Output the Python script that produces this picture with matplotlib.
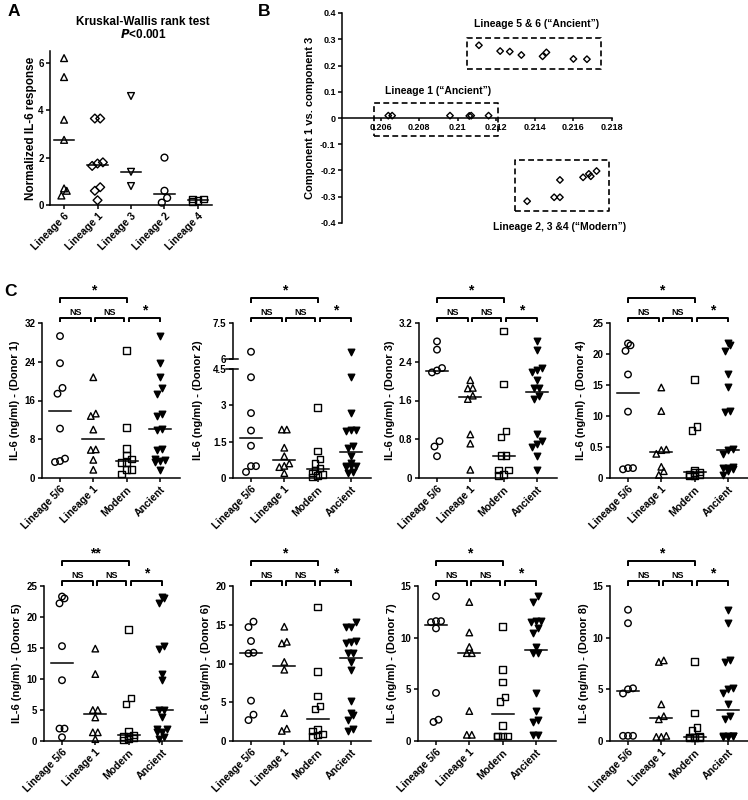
import numpy as np
import matplotlib.pyplot as plt
from matplotlib.text import Text
from matplotlib.transforms import blended_transform_factory

plt.rcParams['font.family'] = ['Liberation Sans Narrow', 'Liberation Sans', 'DejaVu Sans']
plt.rcParams['font.weight'] = 'bold'
plt.rcParams['axes.labelweight'] = 'bold'
plt.rcParams['mathtext.fontset'] = 'custom'
plt.rcParams['mathtext.it'] = 'Liberation Sans Narrow:italic:bold'
plt.rcParams['axes.linewidth'] = 1.1
plt.rcParams['xtick.major.width'] = 1.1
plt.rcParams['ytick.major.width'] = 1.1
plt.rcParams['xtick.major.size'] = 3
plt.rcParams['ytick.major.size'] = 3
plt.rcParams['xtick.major.pad'] = 1.5
plt.rcParams['ytick.major.pad'] = 1.5
plt.rcParams['xtick.labelsize'] = 7
plt.rcParams['ytick.labelsize'] = 7

# ---- panel A data
a_groups = ['Lineage 6', 'Lineage 1', 'Lineage 3', 'Lineage 2', 'Lineage 4']
a_markers = ['^', 'D', 'v', 'o', 's']
a_lin6 = [6.2, 5.4, 3.6, 2.75, 0.7, 0.6, 0.4]
a_lin1 = [3.65, 3.65, 1.8, 1.75, 1.65, 0.75, 0.6, 0.2]
a_lin3 = [4.6, 1.4, 0.8]
a_lin2 = [2.0, 0.6, 0.3, 0.1]
a_lin4 = [0.25, 0.25, 0.2, 0.15]
a_vals = [a_lin6, a_lin1, a_lin3, a_lin2, a_lin4]

# ---- panel B data
b_anc56_x = [0.2111, 0.2122, 0.2127, 0.2133, 0.2144, 0.2146, 0.2160, 0.2167]
b_anc56_y = [0.277, 0.255, 0.253, 0.240, 0.235, 0.250, 0.225, 0.224]
b_lin1_x = [0.2064, 0.2066, 0.2096, 0.2106, 0.2107, 0.2116]
b_lin1_y = [0.009, 0.009, 0.009, 0.008, 0.009, 0.009]
b_mod_x = [0.2136, 0.2150, 0.2153, 0.2153, 0.2165, 0.2168, 0.2169, 0.2172]
b_mod_y = [-0.317, -0.302, -0.302, -0.236, -0.226, -0.213, -0.222, -0.202]
b_xticks = [0.206, 0.208, 0.210, 0.212, 0.214, 0.216, 0.218]
b_xlabels = ['0.206', '0.208', '0.21', '0.212', '0.214', '0.216', '0.218']
b_yticks = [0.4, 0.3, 0.2, 0.1, 0, -0.1, -0.2, -0.3, -0.4]

# ---- panel C data (one list per donor)
c_groups = ['Lineage 5/6', 'Lineage 1', 'Modern', 'Ancient']
c_lin56 = [
    [29.3, 23.7, 18.6, 17.4, 10.2, 4.0, 3.3, 3.5],
    [6.3, 4.16, 2.68, 1.96, 1.33, 0.49, 0.49, 0.25],
    [2.82, 2.65, 2.27, 2.22, 2.18, 0.76, 0.65, 0.45],
    [21.7, 21.4, 20.5, 16.7, 10.7, 1.6, 1.6, 1.4],
    [23.3, 23.0, 22.2, 15.3, 9.8, 2.0, 2.0, 0.6],
    [15.4, 14.7, 12.9, 11.4, 11.3, 5.2, 3.4, 2.7],
    [14.0, 11.6, 11.6, 11.5, 10.9, 4.65, 2.06, 1.84],
    [12.7, 11.4, 5.1, 5.0, 4.6, 0.5, 0.5, 0.5],
]
c_lin1 = [
    [20.8, 13.3, 12.8, 10.0, 5.9, 5.8, 3.75, 1.7],
    [2.0, 2.0, 1.25, 0.9, 0.6, 0.5, 0.45, 0.2],
    [2.02, 1.86, 1.85, 1.70, 1.63, 0.9, 0.71, 0.17],
    [14.6, 10.8, 4.6, 4.5, 3.9, 1.8, 1.1, 0.5],
    [14.9, 10.8, 5.0, 5.0, 3.8, 1.4, 1.4, 0.3],
    [14.75, 12.8, 12.6, 10.2, 9.2, 3.6, 1.6, 1.3],
    [13.45, 10.5, 9.1, 8.5, 8.5, 2.9, 0.6, 0.6],
    [7.8, 7.65, 3.55, 2.4, 2.1, 0.5, 0.4, 0.4],
]
c_modern = [
    [26.3, 10.4, 6.1, 4.7, 3.9, 3.2, 3.2, 1.8, 1.8, 0.8],
    [2.9, 1.12, 0.78, 0.6, 0.42, 0.3, 0.2, 0.15, 0.1, 0.05],
    [3.03, 1.94, 0.97, 0.85, 0.46, 0.46, 0.17, 0.17, 0.07, 0.05],
    [15.9, 8.3, 7.7, 1.3, 1.0, 0.85, 0.6, 0.5, 0.4, 0.3],
    [18.0, 6.9, 6.0, 1.5, 1.0, 0.8, 0.7, 0.5, 0.3, 0.2],
    [17.3, 9.0, 5.8, 4.5, 4.1, 1.5, 1.3, 0.9, 0.8, 0.6],
    [11.1, 6.9, 5.7, 4.25, 3.8, 1.5, 0.5, 0.5, 0.5, 0.5],
    [7.7, 2.7, 1.3, 1.0, 0.45, 0.4, 0.4, 0.35, 0.35, 0.3],
]
c_ymax = [32, 7.5, 3.2, 25, 25, 20, 15, 15]
c_yticks = [[0, 8, 16, 24, 32], [0, 1.5, 3, 4.5], [0, 0.8, 1.6, 2.4, 3.2],
            [0, 5, 10, 15, 20, 25], [0, 5, 10, 15, 20, 25], [0, 5, 10, 15, 20],
            [0, 5, 10, 15], [0, 5, 10, 15]]
c_yticklabels = [['0', '8', '16', '24', '32'], ['0', '1.5', '3', '4.5'],
                 ['0', '0.8', '1.6', '2.4', '3.2'], ['0', '0.5', '10', '15', '20', '25'],
                 ['0', '5', '10', '15', '20', '25'], ['0', '5', '10', '15', '20'],
                 ['0', '5', '10', '15'], ['0', '5', '10', '15']]
c_top_star = ['*', '*', '*', '*', '**', '*', '*', '*']

W, H = 748, 800
fig = plt.figure(figsize=(W / 100, H / 100), dpi=100)


def px_axes(l, t, r, b):
    return fig.add_axes([l / W, 1 - b / H, (r - l) / W, (b - t) / H])


def spread(vals, thresh, step=0.15):
    # simple column-scatter offsets: points close in y sit side by side
    v = np.asarray(vals, float)
    order = np.argsort(v)
    off = np.zeros(len(v))
    groups, cur = [], [order[0]]
    for i in order[1:]:
        if v[i] - v[cur[0]] < thresh:
            cur.append(i)
        else:
            groups.append(cur)
            cur = [i]
    groups.append(cur)
    for g in groups:
        n = len(g)
        if n <= 3:
            offs = (np.arange(n) - (n - 1) / 2) * step
        else:
            offs = ((np.arange(n) % 3) - 1) * step
        for k, i in enumerate(g):
            off[i] = offs[k]
    return off


def clean(ax):
    ax.spines['top'].set_visible(False)
    ax.spines['right'].set_visible(False)


# ================= panel A
axA = px_axes(50, 51, 212, 205)
clean(axA)
for i, (vals, m) in enumerate(zip(a_vals, a_markers)):
    off = spread(vals, 6.5 * 6 / 154, 0.16)
    axA.scatter(i + off, vals, marker=m, s=20 if m == 'D' else 24, facecolors='none',
                edgecolors='black', linewidths=1.0, zorder=3, clip_on=False)
    med = np.median(vals)
    axA.plot([i - 0.3, i + 0.3], [med, med], color='black', lw=1.1, zorder=4)
axA.set_xlim(-0.42, 4.42)
axA.set_ylim(0, 6.5)
axA.set_yticks([0, 2, 4, 6])
axA.set_xticks(range(len(a_groups)))
axA.set_xticklabels(a_groups, rotation=45, ha='right', rotation_mode='anchor', fontsize=7.5)
axA.set_ylabel('Normalized IL-6 response', fontsize=8.5, labelpad=1)
fig.text(143 / W, 1 - 22 / H, 'Kruskal-Wallis rank test', ha='center', va='center', fontsize=8.5)
fig.text(143 / W, 1 - 35 / H, r'$\mathit{P}$<0.001', ha='center', va='center', fontsize=8.5)
fig.text(8 / W, 1 - 12 / H, 'A', fontsize=12.5, family='Liberation Sans', ha='left', va='center')

# ================= panel B
axB = px_axes(342, 13, 612, 223)
clean(axB)
axB.spines['bottom'].set_position(('data', 0))
for xs, ys in [(b_anc56_x, b_anc56_y), (b_lin1_x, b_lin1_y), (b_mod_x, b_mod_y)]:
    axB.scatter(xs, ys, marker='D', s=11, facecolors='none', edgecolors='black',
                linewidths=1.0, zorder=3)
boxes = [(0.2105, 0.185, 0.21744, 0.305), (0.20568, -0.069, 0.21209, 0.057),
         (0.21297, -0.354, 0.21787, -0.161)]
for x0, y0, x1, y1 in boxes:
    axB.plot([x0, x1, x1, x0, x0], [y0, y0, y1, y1, y0], ls=(0, (3.5, 2)), color='black',
             lw=1.2, clip_on=False)
axB.text(0.2141, 0.359, 'Lineage 5 & 6 (\u201cAncient\u201d)', ha='center', va='center', fontsize=7.5)
axB.text(0.2090, 0.103, 'Lineage 1 (\u201cAncient\u201d)', ha='center', va='center', fontsize=7.5)
axB.text(0.2153, -0.415, 'Lineage 2, 3 &4 (\u201cModern\u201d)', ha='center', va='center',
         fontsize=7.5, clip_on=False)
axB.set_xlim(0.204, 0.218)
axB.set_ylim(-0.4, 0.4)
axB.set_xticks(b_xticks)
axB.set_xticklabels(b_xlabels, fontsize=6.5)
axB.set_yticks(b_yticks)
axB.set_yticklabels([('%g' % t) for t in b_yticks], fontsize=6.5)
axB.tick_params(axis='x', length=2)
axB.set_ylabel('Component 1 vs. component 3', fontsize=8, labelpad=4)
fig.text(258 / W, 1 - 11 / H, 'B', fontsize=12.5, family='Liberation Sans', ha='left', va='center')

# ================= panel C
fig.text(4 / W, 1 - 292 / H, 'C', fontsize=12.5, family='Liberation Sans', ha='left', va='center')
cat0 = [60, 251, 437, 628, 62, 251, 436, 628]
row_top = [323, 323, 323, 323, 586, 586, 586, 586]
row_bot = [478, 478, 478, 478, 741, 741, 741, 741]
SP = 33.3
XL, XR = -0.55, 3.6
markers = ['o', '^', 's', 'v']


def draw_groups(ax, groups, thresh, lo=None, hi=None):
    for j, vals in enumerate(groups):
        vals = np.asarray(vals, float)
        off = spread(vals, thresh, 0.15)
        keep = np.ones(len(vals), bool)
        if lo is not None:
            keep &= vals >= lo
        if hi is not None:
            keep &= vals <= hi
        if not keep.any():
            continue
        if markers[j] == 'v':
            kw = dict(facecolors='black', edgecolors='black')
        else:
            kw = dict(facecolors='none', edgecolors='black')
        ax.scatter(j + off[keep], vals[keep], marker=markers[j], s=22, linewidths=1.0,
                   zorder=3, clip_on=False, **kw)
        med = np.median(vals)
        if (lo is None or med >= lo) and (hi is None or med <= hi):
            ax.plot([j - 0.33, j + 0.33], [med, med], color='black', lw=1.1, zorder=4)


def bracket(ax, x0, x1, ypx, label, fs):
    tr = blended_transform_factory(ax.transData, fig.transFigure)
    y = 1 - ypx / H
    d = 4.5 / H
    ax.plot([x0, x0, x1, x1], [y - d, y, y, y - d], transform=tr, color='black', lw=1.4,
            clip_on=False, solid_capstyle='butt')
    ax.text((x0 + x1) / 2, y + 1 / H, label, transform=tr, ha='center', va='bottom', fontsize=fs)


for k in range(8):
    l = cat0[k] + XL * SP
    r = cat0[k] + XR * SP
    top, bot = row_top[k], row_bot[k]
    groups = [c_lin56[k], c_lin1[k], c_modern[k], c_lin56[k] + c_lin1[k]]
    ymax = c_ymax[k]
    if k == 1:
        # broken axis: 0-4.5 below, 6-7.5 above
        ax = px_axes(l, 369, r, bot)
        axu = px_axes(l, top, r, 359)
        clean(ax)
        clean(axu)
        axu.spines['bottom'].set_visible(False)
        axu.tick_params(axis='x', bottom=False, labelbottom=False)
        draw_groups(ax, groups, 4.5 * 6 / 108, hi=4.5)
        draw_groups(axu, groups, 4.5 * 6 / 108, lo=6)
        ax.set_ylim(0, 4.5)
        axu.set_ylim(6, 7.5)
        axu.set_xlim(XL, XR)
        axu.set_yticks([6, 7.5])
        axu.set_yticklabels(['6', '7.5'])
        for a, yv in [(ax, 4.5), (axu, 6)]:
            a.plot([XL - 0.2, XL + 0.15], [yv, yv], color='black', lw=1.1, clip_on=False)
        ax.set_ylabel('IL-6 (ng/ml) - (Donor %d)' % (k + 1), fontsize=8)
        ax.yaxis.set_label_coords(-0.215, (bot - 400) / (bot - 369))
    else:
        ax = px_axes(l, top, r, bot)
        clean(ax)
        draw_groups(ax, groups, ymax * 6 / 155)
        ax.set_ylim(0, ymax)
        ax.set_ylabel('IL-6 (ng/ml) - (Donor %d)' % (k + 1), fontsize=8, labelpad=3)
    ax.set_xlim(XL, XR)
    ax.set_yticks(c_yticks[k])
    ax.set_yticklabels(c_yticklabels[k])
    ax.set_xticks(range(4))
    ax.set_xticklabels(c_groups, rotation=45, ha='right', rotation_mode='anchor', fontsize=7.5)
    bracket(ax, 0, 2, top - 25, c_top_star[k], 10)
    bracket(ax, 0, 0.93, top - 5, 'NS', 6.5)
    bracket(ax, 1.05, 1.93, top - 5, 'NS', 6.5)
    bracket(ax, 2.07, 3.0, top - 5, '*', 10)

# hide any stray text left at the figure corner
fig.canvas.draw()
for t in fig.findobj(Text):
    if t.get_visible() and t.get_text():
        bb = t.get_window_extent()
        if bb.x1 < 12 and bb.y1 < 12:
            t.set_visible(False)

fig.savefig('out.png', dpi=100)
